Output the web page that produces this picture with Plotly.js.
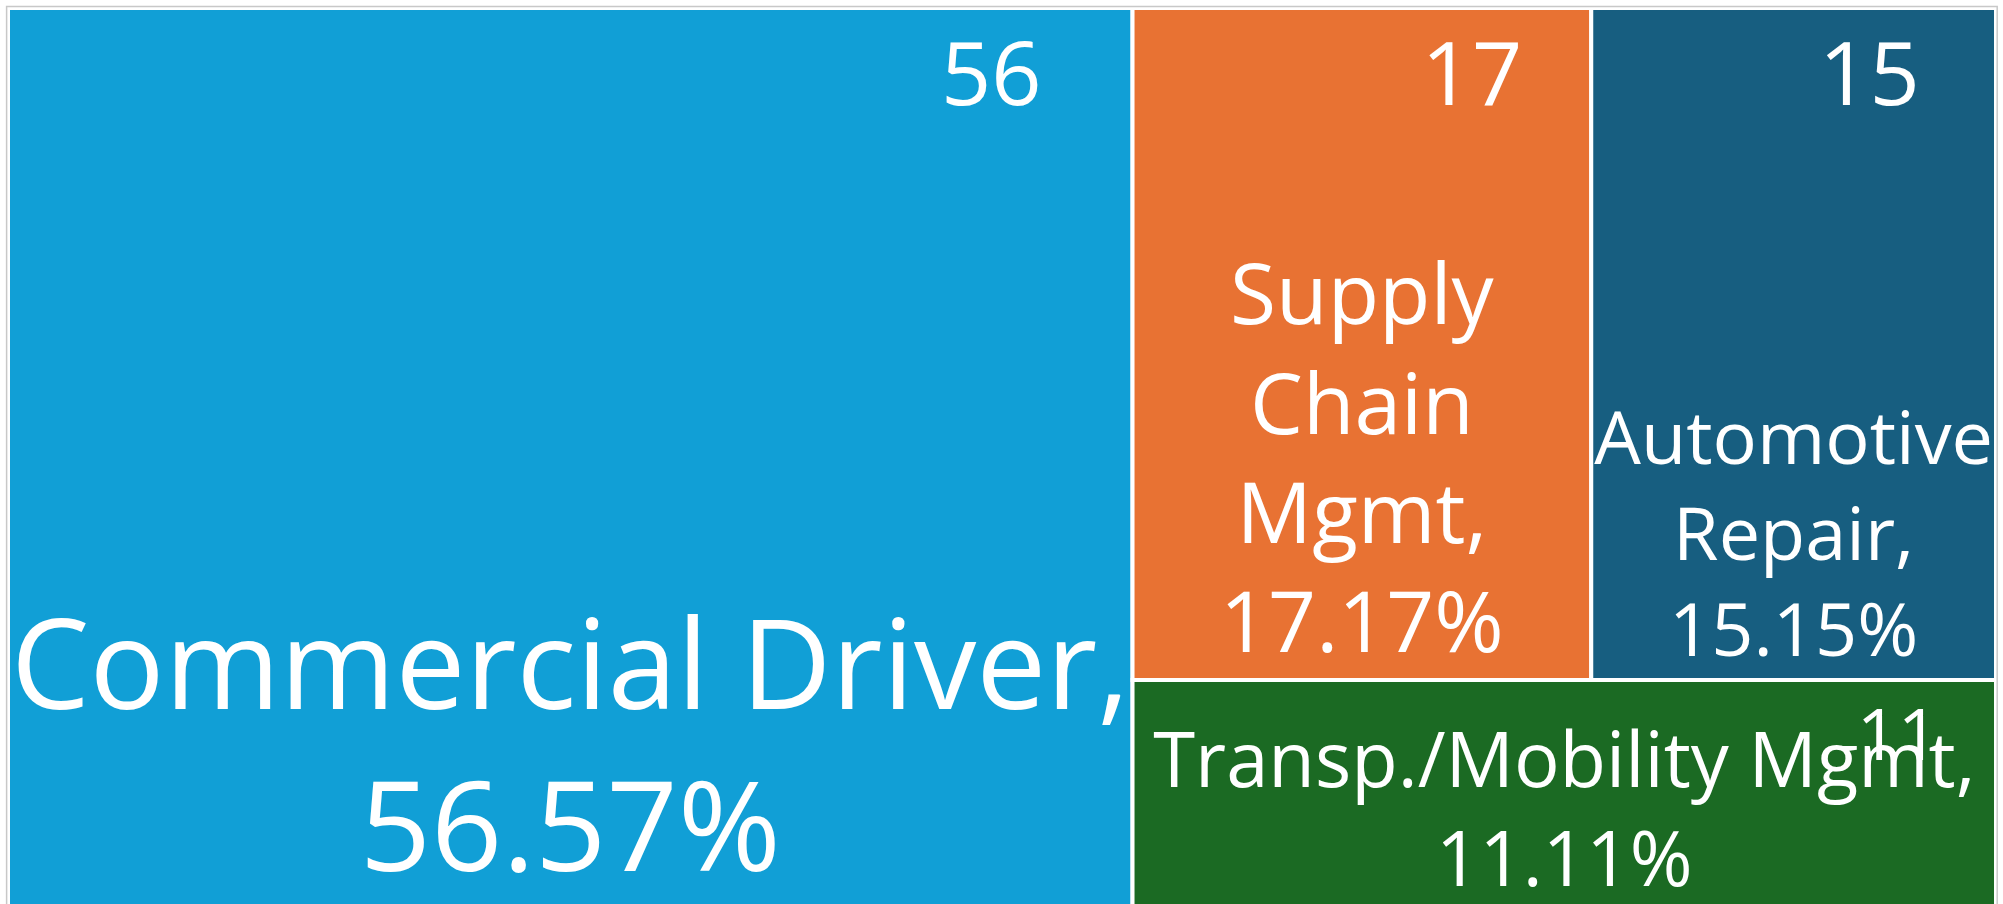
<!DOCTYPE html>
<html>
<head>
<meta charset="utf-8">
<script src="https://cdn.plot.ly/plotly-3.0.1.min.js"></script>
<style>
  html, body { margin: 0; padding: 0; background: #ffffff; overflow: hidden; }
  #chart { width: 2003px; height: 919px; }
  #err { position: absolute; left: 20px; top: 20px; font: 20px monospace; color: red; z-index: 10; }
</style>
</head>
<body>
<div id="err"></div>
<div id="chart"></div>
<script>
window.onerror = function (m, s, l) { document.getElementById('err').textContent += ' ERR: ' + m + ' @' + l; };
// ---- data ----
const categories = ["Commercial Driver", "Supply Chain Mgmt", "Automotive Repair", "Transp./Mobility Mgmt"];
const values = [56, 17, 15, 11];
const wrappedLabels = ["Commercial Driver,", "Supply<br>Chain<br>Mgmt,", "Automotive<br>Repair,", "Transp./Mobility Mgmt,"];
const parents = ["", "", "", ""];
const sectorColors = ["#119FD6", "#E87233", "#175E80", "#1B6A23"];

const FONT = "Open Sans, Noto Sans, sans-serif";
const NOPAD = { t: 0, l: 0, r: 0, b: 0 };

// base trace: coloured cells with the value near the top-right corner
const valueTrace = {
  type: "treemap",
  labels: categories,
  parents: parents,
  values: values,
  sort: false,
  tiling: { packing: "squarify", squarifyratio: 1, pad: 0 },
  marker: { colors: sectorColors, line: { color: "#ffffff", width: 4 }, pad: NOPAD },
  texttemplate: ["%{value}\u2003", "%{value}\u2002\u2005", "%{value}\u2002\u2004", "%{value}\u2002\u2005"],
  textposition: "top right",
  textfont: { family: FONT, color: "#ffffff", size: [88, 88, 88, 72] },
  hoverinfo: "none",
  pathbar: { visible: false }
};

// overlay trace: identical tiling, transparent cells, category label + share
const labelTrace = {
  type: "treemap",
  labels: categories,
  parents: parents,
  values: values,
  text: wrappedLabels,
  sort: false,
  tiling: { packing: "squarify", squarifyratio: 1, pad: 0 },
  marker: { colors: ["rgba(0,0,0,0)", "rgba(0,0,0,0)", "rgba(0,0,0,0)", "rgba(0,0,0,0)"], line: { width: 0 }, pad: NOPAD },
  texttemplate: "%{text}<br>%{percentRoot:.2%}",
  textposition: "bottom center",
  textfont: { family: FONT, color: "#ffffff", size: [133, 84, 80, 76] },
  hoverinfo: "none",
  pathbar: { visible: false }
};

const layout = {
  width: 2003,
  height: 919,
  margin: { l: 8, r: 7, t: 8, b: 8 },
  paper_bgcolor: "#ffffff",
  showlegend: false,
  shapes: [{
    type: "rect", xref: "paper", yref: "paper",
    x0: -0.0007, x1: 1.0006, y0: -0.01, y1: 1.0016,
    line: { color: "#c8c8c8", width: 1.5 }, fillcolor: "rgba(0,0,0,0)", layer: "above"
  }]
};

Plotly.newPlot("chart", [valueTrace, labelTrace], layout, { displayModeBar: false })
  .catch(function (e) { document.getElementById('err').textContent += ' P: ' + e; });
</script>
</body>
</html>
